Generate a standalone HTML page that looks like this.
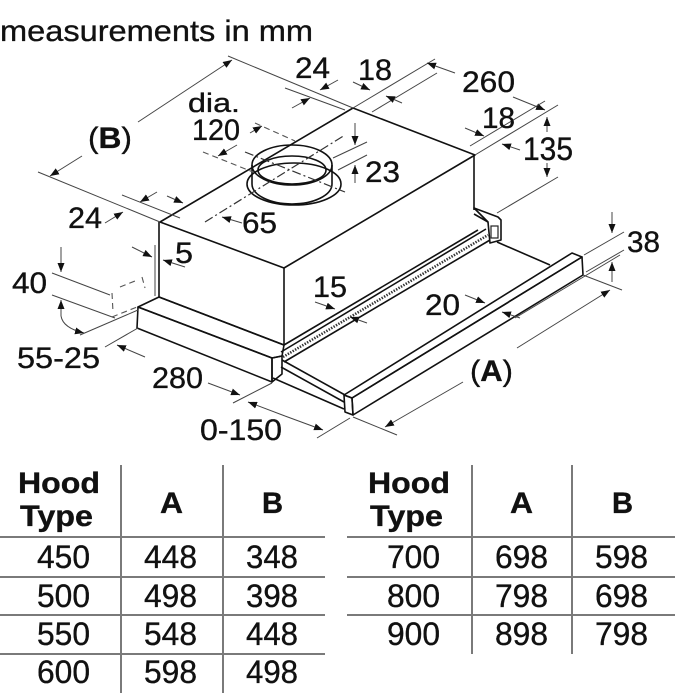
<!DOCTYPE html>
<html><head><meta charset="utf-8"><style>
html,body{margin:0;padding:0;background:#fff;}
svg{display:block;}
text{font-family:"Liberation Sans",Arial,sans-serif;fill:#111;stroke:#111;stroke-width:0.35;}
.o{stroke:#111;stroke-width:1.6;fill:none;stroke-linejoin:round;}
.d{stroke:#444;stroke-width:1;fill:none;}
.dm{stroke:#444;stroke-width:1;fill:none;marker-end:url(#ar);}
.t{stroke:#7a7a7a;stroke-width:2;}
.cl{stroke:#333;stroke-width:1.2;fill:none;stroke-dasharray:9 3 2 3;}
.hd{stroke:#555;stroke-width:1.1;fill:none;stroke-dasharray:6 4;}
</style></head><body>
<svg width="700" height="700" viewBox="0 0 700 700" xmlns="http://www.w3.org/2000/svg">
<defs>
<marker id="ar" markerWidth="9" markerHeight="7" refX="9" refY="3.5" orient="auto" markerUnits="userSpaceOnUse">
<path d="M0,0 L9,3.5 L0,7 z" fill="#111"/>
</marker>
</defs>

<!-- title -->
<text x="0" y="41" font-size="30" textLength="313" lengthAdjust="spacingAndGlyphs">measurements in mm</text>

<!-- ===== OBJECT ===== -->
<polygon class="o" points="160,222 353,108 475,155 284,268" fill="#fff"/>
<line class="o" x1="159" y1="222" x2="159" y2="297"/>
<line class="o" x1="284" y1="268" x2="284" y2="345"/>
<line class="o" x1="474" y1="155" x2="474" y2="210"/>
<line class="d" x1="155" y1="245" x2="155" y2="296"/>
<line class="o" x1="159" y1="297" x2="284" y2="345"/>

<!-- rail on right side -->
<line class="o" x1="284" y1="345" x2="478" y2="230"/>
<line class="o" x1="281" y1="352" x2="486" y2="229"/>
<line x1="283" y1="357" x2="488" y2="235" stroke="#333" stroke-width="2.6" stroke-dasharray="1.4 1.4"/>
<line class="o" x1="284" y1="362" x2="490" y2="240"/>

<!-- bracket right -->
<polygon class="o" points="474,208 498,217 501,220 501,240 490,243 488,222" fill="#fff"/>
<line class="o" x1="488" y1="222" x2="474" y2="214"/>
<rect x="491" y="226" width="7" height="12" fill="none" stroke="#222" stroke-width="1.2"/>
<line class="o" x1="497" y1="242" x2="550" y2="265"/>

<!-- lower strip (frame) -->
<polygon class="o" points="138,307 159,297 284,345 282,356 272,358" fill="#fff"/>
<polygon class="o" points="138,307 272,358 272,382 137,328" fill="#fff"/>
<polygon class="o" points="272,358 282,356 282,374 272,382" fill="#fff"/>

<!-- drawer side to front bar -->
<line class="o" x1="282" y1="360" x2="345" y2="395"/>
<line class="o" x1="281" y1="367" x2="344" y2="402"/>
<line class="o" x1="273" y1="378" x2="344" y2="409"/>

<!-- front bar -->
<polygon class="o" points="344,395 572,253 582,257 352,398" fill="#fff"/>
<polygon class="o" points="352,398 582,257 583,275 353,415" fill="#fff"/>
<polygon class="o" points="344,395 352,398 353,415 345,412" fill="#fff"/>

<!-- duct -->
<ellipse class="o" cx="294" cy="184" rx="47" ry="21" fill="#fff"/>
<path class="o" d="M252,165 L252,184 A40,20 0 0 0 332,184 L332,165" fill="#fff"/>
<ellipse class="o" cx="292" cy="165" rx="40" ry="20" fill="#fff"/>
<ellipse class="o" cx="292" cy="170" rx="34" ry="14"/>
<line class="cl" x1="205" y1="222" x2="345" y2="135"/>
<line class="cl" x1="245" y1="152" x2="345" y2="192"/>

<!-- hidden dashed (left) -->
<line class="hd" x1="112" y1="293" x2="113" y2="312"/>
<line class="hd" x1="120" y1="287" x2="135" y2="281"/>
<line class="hd" x1="142" y1="277" x2="145" y2="288"/>
<line class="hd" x1="112" y1="317" x2="137" y2="307"/>

<!-- ===== DIMENSIONS ===== -->
<line class="d" x1="38" y1="172" x2="160" y2="222"/>
<line class="d" x1="228" y1="56" x2="353" y2="108"/>
<line class="dm" x1="82" y1="156" x2="50" y2="176"/>
<line class="dm" x1="138" y1="122" x2="232" y2="60"/>
<line class="d" x1="285" y1="88" x2="345" y2="110"/>
<line class="dm" x1="338" y1="80" x2="320" y2="90"/>
<line class="dm" x1="292" y1="108" x2="310" y2="98"/>
<line class="d" x1="353" y1="108" x2="435" y2="59"/>
<line class="d" x1="372" y1="112" x2="437" y2="73"/>
<line class="dm" x1="353" y1="82" x2="370" y2="90"/>
<line class="dm" x1="402" y1="103" x2="386" y2="96"/>
<line class="d" x1="475" y1="155" x2="558" y2="105"/>
<line class="dm" x1="455" y1="73" x2="427" y2="63"/>
<line class="dm" x1="513" y1="97" x2="545" y2="110"/>
<line class="d" x1="470" y1="146" x2="545" y2="101"/>
<line class="dm" x1="465" y1="128" x2="484" y2="136"/>
<line class="dm" x1="520" y1="150" x2="502" y2="144"/>
<line class="d" x1="497" y1="213" x2="558" y2="177"/>
<line class="dm" x1="547" y1="132" x2="547" y2="117"/>
<line class="dm" x1="547" y1="163" x2="547" y2="177"/>
<line class="d" x1="333" y1="158" x2="367" y2="142"/>
<line class="d" x1="338" y1="170" x2="367" y2="155"/>
<line class="dm" x1="355" y1="123" x2="355" y2="145"/>
<line class="dm" x1="355" y1="183" x2="355" y2="165"/>
<line class="hd" x1="203" y1="152" x2="253" y2="172"/>
<line class="hd" x1="255" y1="123" x2="295" y2="141"/>
<line class="dm" x1="237" y1="145" x2="218" y2="156"/>
<line class="dm" x1="250" y1="133" x2="262" y2="126"/>
<line class="dm" x1="242" y1="223" x2="222" y2="217"/>
<line class="d" x1="122" y1="195" x2="180" y2="218"/>
<line class="dm" x1="105" y1="223" x2="123" y2="212"/>
<line class="dm" x1="157" y1="192" x2="140" y2="202"/>
<line class="dm" x1="167" y1="196" x2="183" y2="203"/>
<line class="dm" x1="132" y1="247" x2="152" y2="257"/>
<line class="dm" x1="185" y1="267" x2="163" y2="260"/>
<line class="d" x1="52" y1="273" x2="110" y2="295"/>
<line class="d" x1="52" y1="295" x2="115" y2="318"/>
<line class="dm" x1="61" y1="247" x2="61" y2="272"/>
<line class="dm" x1="61" y1="316" x2="61" y2="300"/>
<path class="dm" d="M61,316 Q63,328 84,333"/>
<line class="d" x1="80" y1="335" x2="138" y2="310"/>
<line class="d" x1="105" y1="347" x2="138" y2="328"/>
<line class="dm" x1="145" y1="357" x2="117" y2="345"/>
<line class="dm" x1="208" y1="383" x2="240" y2="395"/>
<line class="d" x1="233" y1="403" x2="272" y2="383"/>
<line class="dm" x1="285" y1="416" x2="248" y2="402"/>
<line class="dm" x1="285" y1="416" x2="323" y2="430"/>
<line class="d" x1="350" y1="418" x2="317" y2="438"/>
<line class="d" x1="353" y1="417" x2="397" y2="435"/>
<line class="d" x1="583" y1="275" x2="622" y2="290"/>
<line class="dm" x1="463" y1="382" x2="385" y2="427"/>
<line class="dm" x1="517" y1="348" x2="610" y2="290"/>
<line class="d" x1="515" y1="318" x2="620" y2="255"/>
<line class="dm" x1="465" y1="295" x2="485" y2="303"/>
<line class="dm" x1="520" y1="318" x2="502" y2="312"/>
<line class="d" x1="584" y1="255" x2="624" y2="232"/>
<line class="d" x1="586" y1="272" x2="624" y2="250"/>
<line class="dm" x1="612" y1="212" x2="612" y2="233"/>
<line class="dm" x1="612" y1="282" x2="612" y2="262"/>
<line class="dm" x1="315" y1="302" x2="335" y2="309"/>
<line class="dm" x1="367" y1="323" x2="350" y2="317"/>

<!-- ===== LABELS ===== -->
<g font-size="30">
<text x="295" y="78" textLength="35" lengthAdjust="spacingAndGlyphs">24</text>
<text x="358" y="80" textLength="34" lengthAdjust="spacingAndGlyphs">18</text>
<text x="462" y="92" textLength="53" lengthAdjust="spacingAndGlyphs">260</text>
<text x="482" y="128" textLength="33" lengthAdjust="spacingAndGlyphs">18</text>
<text x="523" y="160" font-size="32" textLength="50" lengthAdjust="spacingAndGlyphs">135</text>
<text x="365" y="182" textLength="35" lengthAdjust="spacingAndGlyphs">23</text>
<text x="627" y="252" textLength="33" lengthAdjust="spacingAndGlyphs">38</text>
<text x="470" y="381" textLength="43" lengthAdjust="spacingAndGlyphs">(<tspan font-weight="bold">A</tspan>)</text>
<text x="425" y="315" textLength="35" lengthAdjust="spacingAndGlyphs">20</text>
<text x="313" y="297" textLength="34" lengthAdjust="spacingAndGlyphs">15</text>
<text x="88" y="148" textLength="44" lengthAdjust="spacingAndGlyphs">(<tspan font-weight="bold">B</tspan>)</text>
<text x="188" y="112" font-size="27" textLength="52" lengthAdjust="spacingAndGlyphs">dia.</text>
<text x="192" y="140" textLength="48" lengthAdjust="spacingAndGlyphs">120</text>
<text x="68" y="228" textLength="34" lengthAdjust="spacingAndGlyphs">24</text>
<text x="242" y="233" textLength="35" lengthAdjust="spacingAndGlyphs">65</text>
<text x="175" y="263" textLength="18" lengthAdjust="spacingAndGlyphs">5</text>
<text x="12" y="293" textLength="35" lengthAdjust="spacingAndGlyphs">40</text>
<text x="17" y="368" textLength="83" lengthAdjust="spacingAndGlyphs">55-25</text>
<text x="152" y="388" textLength="51" lengthAdjust="spacingAndGlyphs">280</text>
<text x="200" y="440" textLength="82" lengthAdjust="spacingAndGlyphs">0-150</text>
</g>

<!-- ===== TABLES ===== -->
<g>
<line class="t" x1="121" y1="465" x2="121" y2="693"/>
<line class="t" x1="223" y1="465" x2="223" y2="693"/>
<line class="t" x1="0" y1="537" x2="325" y2="537"/>
<line class="t" x1="0" y1="577" x2="325" y2="577"/>
<line class="t" x1="0" y1="615" x2="325" y2="615"/>
<line class="t" x1="0" y1="654" x2="325" y2="654"/>
<line class="t" x1="472" y1="465" x2="472" y2="654"/>
<line class="t" x1="572" y1="465" x2="572" y2="654"/>
<line class="t" x1="347" y1="537" x2="675" y2="537"/>
<line class="t" x1="347" y1="577" x2="675" y2="577"/>
<line class="t" x1="347" y1="615" x2="675" y2="615"/>
</g>
<g font-size="30" font-weight="bold">
<text x="18" y="493" textLength="82" lengthAdjust="spacingAndGlyphs">Hood</text>
<text x="20" y="526" textLength="73" lengthAdjust="spacingAndGlyphs">Type</text>
<text x="160" y="513" textLength="23" lengthAdjust="spacingAndGlyphs">A</text>
<text x="262" y="513" textLength="21" lengthAdjust="spacingAndGlyphs">B</text>
<text x="368" y="493" textLength="82" lengthAdjust="spacingAndGlyphs">Hood</text>
<text x="370" y="526" textLength="73" lengthAdjust="spacingAndGlyphs">Type</text>
<text x="510" y="513" textLength="23" lengthAdjust="spacingAndGlyphs">A</text>
<text x="612" y="513" textLength="21" lengthAdjust="spacingAndGlyphs">B</text>
</g>
<g font-size="32">
<text x="37" y="568" textLength="53" lengthAdjust="spacingAndGlyphs">450</text>
<text x="144" y="568" textLength="53" lengthAdjust="spacingAndGlyphs">448</text>
<text x="246" y="568" textLength="52" lengthAdjust="spacingAndGlyphs">348</text>
<text x="37" y="607" textLength="53" lengthAdjust="spacingAndGlyphs">500</text>
<text x="144" y="607" textLength="53" lengthAdjust="spacingAndGlyphs">498</text>
<text x="246" y="607" textLength="52" lengthAdjust="spacingAndGlyphs">398</text>
<text x="37" y="645" textLength="53" lengthAdjust="spacingAndGlyphs">550</text>
<text x="144" y="645" textLength="53" lengthAdjust="spacingAndGlyphs">548</text>
<text x="246" y="645" textLength="52" lengthAdjust="spacingAndGlyphs">448</text>
<text x="37" y="683" textLength="53" lengthAdjust="spacingAndGlyphs">600</text>
<text x="144" y="683" textLength="53" lengthAdjust="spacingAndGlyphs">598</text>
<text x="246" y="683" textLength="52" lengthAdjust="spacingAndGlyphs">498</text>
<text x="387" y="568" textLength="53" lengthAdjust="spacingAndGlyphs">700</text>
<text x="495" y="568" textLength="53" lengthAdjust="spacingAndGlyphs">698</text>
<text x="595" y="568" textLength="53" lengthAdjust="spacingAndGlyphs">598</text>
<text x="387" y="607" textLength="53" lengthAdjust="spacingAndGlyphs">800</text>
<text x="495" y="607" textLength="53" lengthAdjust="spacingAndGlyphs">798</text>
<text x="595" y="607" textLength="53" lengthAdjust="spacingAndGlyphs">698</text>
<text x="387" y="645" textLength="53" lengthAdjust="spacingAndGlyphs">900</text>
<text x="495" y="645" textLength="53" lengthAdjust="spacingAndGlyphs">898</text>
<text x="595" y="645" textLength="53" lengthAdjust="spacingAndGlyphs">798</text>
</g>
</svg>
</body></html>
